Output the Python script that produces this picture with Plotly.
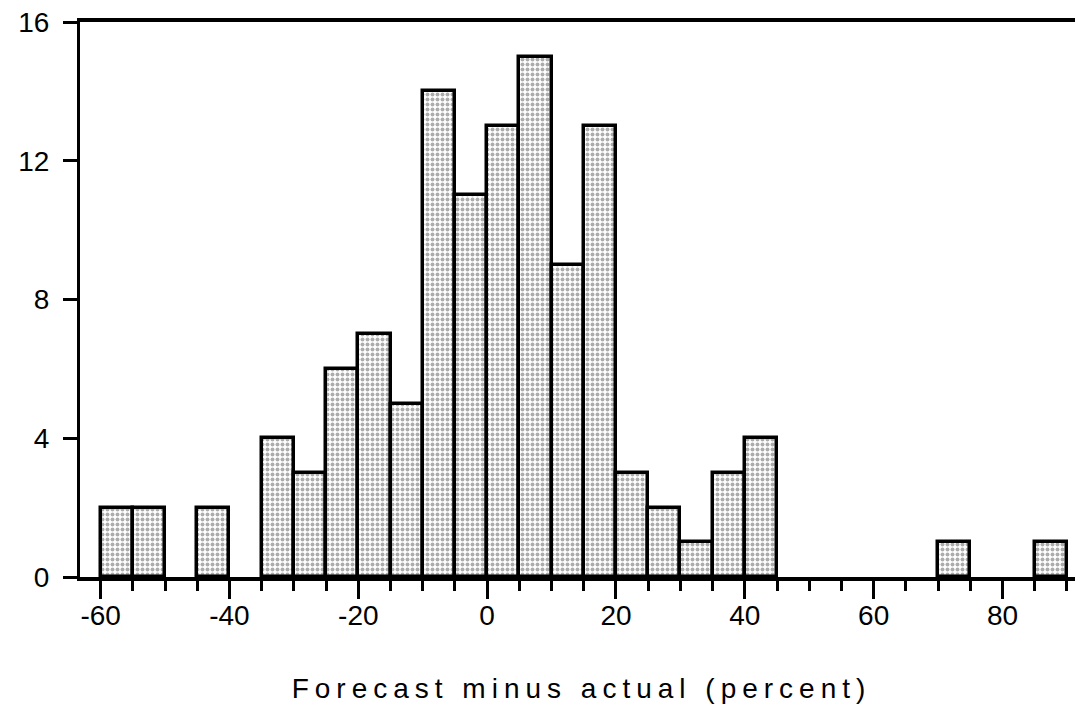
import plotly.graph_objects as go

# Histogram bins (left edges, width 5) and counts
bin_left = [-60, -55, -50, -45, -40, -35, -30, -25, -20, -15, -10, -5, 0, 5, 10, 15,
            20, 25, 30, 35, 40, 45, 50, 55, 60, 65, 70, 75, 80, 85]
counts = [2, 2, 0, 2, 0, 4, 3, 6, 7, 5, 14, 11, 13, 15, 9, 13,
          3, 2, 1, 3, 4, 0, 0, 0, 0, 0, 1, 0, 0, 1]
bin_width = 5
x_ticks = [-60, -40, -20, 0, 20, 40, 60, 80]
y_ticks = [0, 4, 8, 12, 16]
x_title = "Forecast minus actual (percent)"

centers = [b + bin_width / 2 for b, c in zip(bin_left, counts) if c > 0]
heights = [c for c in counts if c > 0]

font_family = "Liberation Sans, Arial, sans-serif"

fig = go.Figure(go.Bar(
    x=centers, y=heights, width=bin_width,
    marker=dict(
        color="white",
        line=dict(color="black", width=3.5),
        pattern=dict(shape=".", fgcolor="#5a5a5a", bgcolor="white", size=5, solidity=0.5),
    ),
    showlegend=False,
))

# page body has an 8px margin, so the figure is shrunk and shifted to compensate
fig.update_layout(
    width=1075, height=702,
    margin=dict(l=72, r=0, t=14, b=133),
    paper_bgcolor="white", plot_bgcolor="white",
    font=dict(family=font_family, size=28, color="black"),
    bargap=0,
)

fig.update_xaxes(
    range=[-63.2, 92.5],
    tickmode="array", tickvals=x_ticks, ticktext=[str(v) for v in x_ticks],
    ticks="outside", ticklen=18, tickwidth=3, tickcolor="black",
    minor=dict(dtick=5, tick0=0, ticks="outside", ticklen=10, tickwidth=2.5, tickcolor="black"),
    showline=True, linewidth=4, linecolor="black", mirror=True,
    showgrid=False, zeroline=False,
    tickfont=dict(size=28),
    ticklabelstandoff=-8,
    ticklabeloverflow="allow",
    title=dict(text='<span style="letter-spacing:6px">' + x_title + '</span>',
               font=dict(size=28), standoff=50),
)
fig.update_yaxes(
    range=[0, 16],
    tickmode="array", tickvals=y_ticks, ticktext=[str(v) for v in y_ticks],
    ticks="outside", ticklen=14, tickwidth=3, tickcolor="black",
    showline=True, linewidth=3, linecolor="black", mirror=False,
    showgrid=False, zeroline=False,
    tickfont=dict(size=28),
    ticklabelstandoff=8,
    ticklabeloverflow="allow",
)

fig.write_html("out.html")
